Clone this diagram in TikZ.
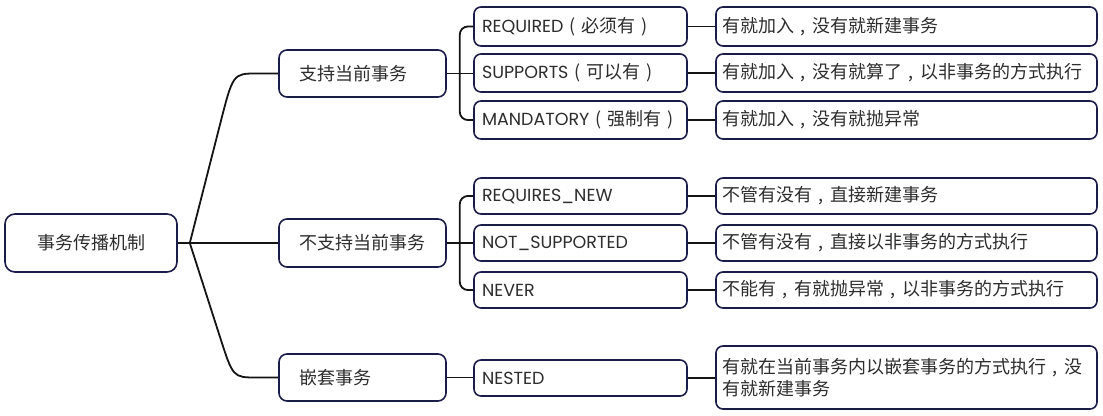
\documentclass[tikz,border=0pt]{standalone}
\usepackage{fontspec}
\setmainfont{Poppins}
\newfontfamily\cjk{Noto Sans CJK SC}
\newfontfamily\lat{Poppins}
\usetikzlibrary{calc}
\definecolor{boxline}{RGB}{28,28,72}
\definecolor{txt}{RGB}{45,45,45}
\definecolor{connc}{RGB}{20,20,20}
\newcommand{\en}[1]{{\lat\fontsize{17.5}{22}\selectfont #1}}
\newcommand{\zc}{\makebox[1em][c]{,}}
\newcommand{\lp}{\makebox[1em][c]{(}}
\newcommand{\rp}{\makebox[1em][c]{)}}
\begin{document}
\begin{tikzpicture}[x=1pt,y=-1pt,
  basebox/.style={draw=boxline, line width=1.6pt, fill=white, text=txt,
    font=\cjk\fontsize{18}{22}\selectfont, inner ysep=0pt},
  rootbox/.style={basebox, rounded corners=10pt, minimum width=172pt, minimum height=58pt, inner xsep=0pt, align=center},
  lonebox/.style={basebox, rounded corners=8pt, text width=127pt, inner xsep=20pt, minimum height=47pt, align=left},
  ltwobox/.style={basebox, rounded corners=7pt, text width=197pt, inner xsep=8pt, align=left},
  lthreebox/.style={basebox, rounded corners=7pt, text width=369pt, inner xsep=6pt, align=left},
  conn/.style={draw=connc, line width=1.8pt},
]
\useasboundingbox (0,0) rectangle (1103,415);
% root
\node[rootbox] (root) at (91,243) {事务传播机制};
% level 1
\node[lonebox] (sup) at (362.5,73.5) {支持当前事务};
\node[lonebox, minimum height=48pt] (nsup) at (362.5,243) {不支持当前事务};
\node[lonebox] (nest) at (362.5,377.5) {嵌套事务};
% level 2
\node[ltwobox, minimum height=39pt] (req) at (580.5,26.5) {\en{REQUIRED}\lp 必须有\rp};
\node[ltwobox, minimum height=38pt] (sups) at (580.5,73) {\en{SUPPORTS}\lp 可以有\rp};
\node[ltwobox, minimum height=38pt] (man) at (580.5,120) {\en{MANDATORY}\lp 强制有\rp};
\node[ltwobox, minimum height=36pt] (rnew) at (580.5,196) {\en{REQUIRES\_NEW}};
\node[ltwobox, minimum height=36pt] (nsp) at (580.5,243) {\en{NOT\_SUPPORTED}};
\node[ltwobox, minimum height=36pt] (nev) at (580.5,290) {\en{NEVER}};
\node[ltwobox, minimum height=36pt] (nst) at (580.5,378) {\en{NESTED}};
% level 3
\node[lthreebox, minimum height=39pt] (d1) at (906.5,26.5) {有就加入\zc 没有就新建事务};
\node[lthreebox, minimum height=38pt] (d2) at (906.5,73) {有就加入\zc 没有就算了\zc 以非事务的方式执行};
\node[lthreebox, minimum height=38pt] (d3) at (906.5,120) {有就加入\zc 没有就抛异常};
\node[lthreebox, minimum height=36pt] (d4) at (906.5,196) {不管有没有\zc 直接新建事务};
\node[lthreebox, minimum height=36pt] (d5) at (906.5,243) {不管有没有\zc 直接以非事务的方式执行};
\node[lthreebox, minimum height=36pt] (d6) at (906.5,290) {不能有\zc 有就抛异常\zc 以非事务的方式执行};
\node[lthreebox, minimum height=63pt] (d7) at (906.5,377.5) {有就在当前事务内以嵌套事务的方式执行\zc 没\\有就新建事务};
% root connectors
\coordinate (jr) at ($(root.east)+(12,0)$);
\coordinate (ca) at (233,73.5);
\coordinate (cc) at (233,377.5);
\draw[conn] (root.east) -- (nsup.west);
\draw[conn] (jr) -- ($(jr)!0.7!(ca)$) .. controls (ca) .. ($(ca)+(24,0)$) -- (sup.west);
\draw[conn] (jr) -- ($(jr)!0.7!(cc)$) .. controls (cc) .. ($(cc)+(24,0)$) -- (nest.west);
% level 1 -> level 2
\coordinate (ja) at ($(sup.east)+(13,0)$);
\coordinate (jb) at ($(nsup.east)+(13,0)$);
\draw[conn] (sup.east) -- (sup.east -| sups.west);
\draw[conn, rounded corners=8pt] (ja) |- (req.west);
\draw[conn, rounded corners=8pt] (ja) |- (man.west);
\draw[conn] (nsup.east) -- (nsp.west);
\draw[conn, rounded corners=8pt] (jb) |- (rnew.west);
\draw[conn, rounded corners=8pt] (jb) |- (nev.west);
\draw[conn] (nest.east) -- (nest.east -| nst.west);
% level 2 -> level 3
\draw[conn] (req.east) -- (d1.west);
\draw[conn] (sups.east) -- (d2.west);
\draw[conn] (man.east) -- (d3.west);
\draw[conn] (rnew.east) -- (d4.west);
\draw[conn] (nsp.east) -- (d5.west);
\draw[conn] (nev.east) -- (d6.west);
\draw[conn] (nst.east) -- (nst.east -| d7.west);
\end{tikzpicture}
\end{document}
